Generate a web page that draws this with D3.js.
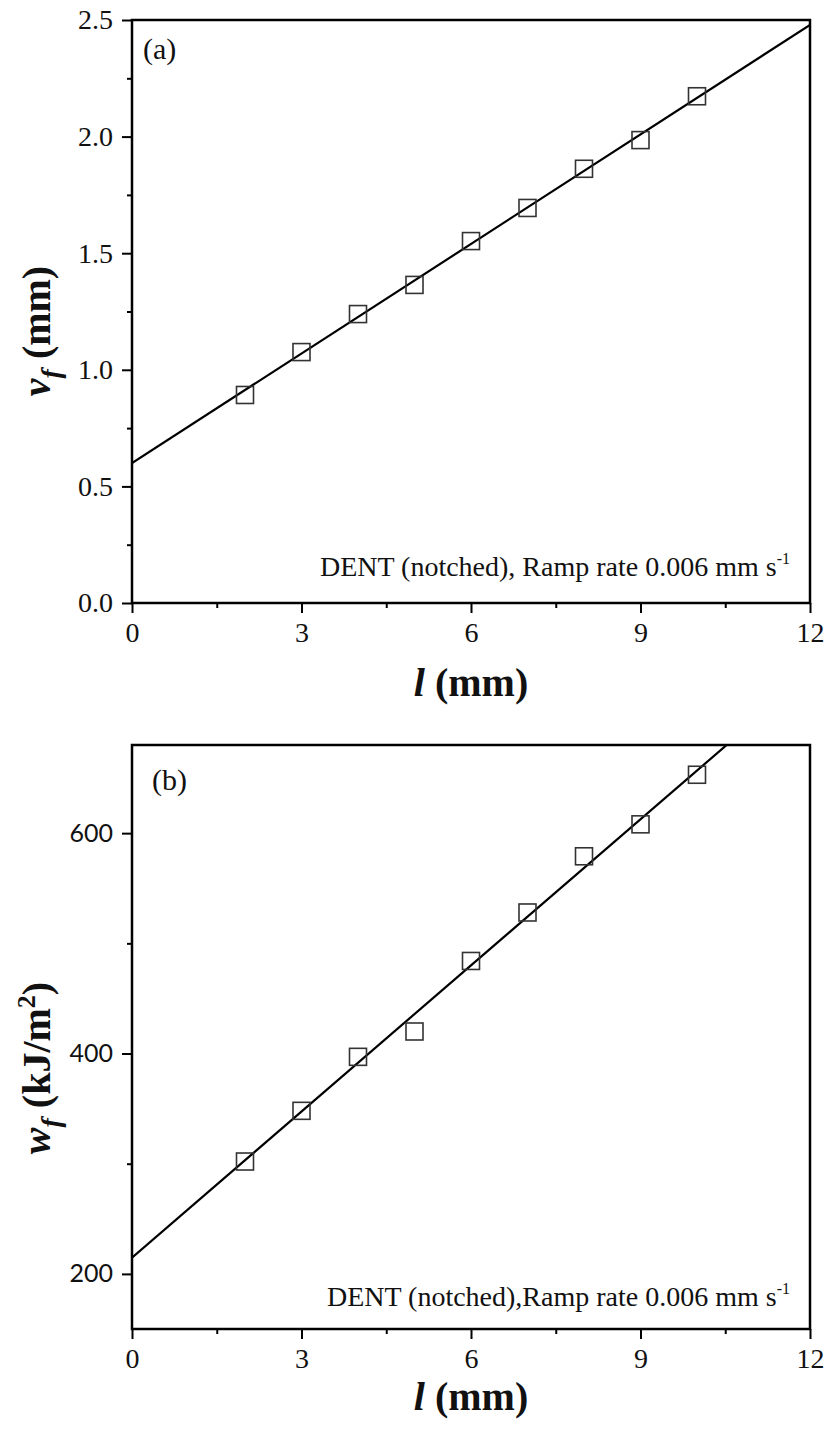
<!DOCTYPE html>
<html>
<head>
<meta charset="utf-8">
<script src="https://cdn.jsdelivr.net/npm/d3@7"></script>
<style>
  html, body { margin: 0; padding: 0; background: #fff; }
  svg { display: block; }
</style>
</head>
<body>
<svg id="chart" width="827" height="1429"></svg>
<script>
// Ligament length l (mm), shared by both panels
const lengths = [2, 3, 4, 5, 6, 7, 8, 9, 10];

// Panel (a): displacement at fracture v_f (mm)
const vfValues = [0.892, 1.076, 1.239, 1.364, 1.552, 1.694, 1.862, 1.985, 2.173];
const vfFit = [0.600, 0.1566];          // intercept, slope
const vfTicks = [0, 0.5, 1.0, 1.5, 2.0, 2.5];
const vfMinor = [0.25, 0.75, 1.25, 1.75, 2.25];

// Panel (b): specific work of fracture w_f (kJ/m²)
const wfValues = [302, 348, 397, 420, 484, 528, 579, 608, 653];
const wfFit = [214.8, 44.2];            // intercept, slope
const wfTicks = [200, 400, 600];
const wfMinor = [300, 500];

const xTicks = [0, 3, 6, 9, 12];
const xMinor = [1.5, 4.5, 7.5, 10.5];

const svg = d3.select("#chart");
const serif = "'Liberation Serif', 'Times New Roman', serif";

const x = d3.scaleLinear().domain([0, 12]).range([132, 810]);

function panel(cfg) {
  const y = d3.scaleLinear().domain(cfg.yDomain).range([cfg.bottom, cfg.top]);
  const g = svg.append("g");

  // clip for the fit line
  const clipId = "clip-" + cfg.id;
  svg.append("clipPath").attr("id", clipId)
    .append("rect")
    .attr("x", x.range()[0]).attr("y", cfg.top)
    .attr("width", x.range()[1] - x.range()[0])
    .attr("height", cfg.bottom - cfg.top);

  // left axis: major + minor ticks
  const yAxis = g.append("g").attr("transform", `translate(${x.range()[0]},0)`)
    .call(d3.axisLeft(y).tickValues(cfg.yTicks).tickFormat(cfg.yFormat)
      .tickSize(10).tickSizeOuter(0).tickPadding(9));
  yAxis.select(".domain").remove();
  yAxis.selectAll("line").attr("stroke", "#000").attr("stroke-width", 2);
  yAxis.selectAll("text").attr("font-family", cfg.yFont).attr("font-size", cfg.yFontSize)
    .attr("fill", "#111");
  const yMinorAxis = g.append("g").attr("transform", `translate(${x.range()[0]},0)`)
    .call(d3.axisLeft(y).tickValues(cfg.yMinor).tickFormat("").tickSize(5).tickSizeOuter(0));
  yMinorAxis.select(".domain").remove();
  yMinorAxis.selectAll("line").attr("stroke", "#000").attr("stroke-width", 2);

  // bottom axis
  const xAxis = g.append("g").attr("transform", `translate(0,${cfg.bottom})`)
    .call(d3.axisBottom(x).tickValues(xTicks).tickFormat(d3.format("d"))
      .tickSize(10).tickSizeOuter(0).tickPadding(9));
  xAxis.select(".domain").remove();
  xAxis.selectAll("line").attr("stroke", "#000").attr("stroke-width", 2);
  xAxis.selectAll("text").attr("font-family", serif).attr("font-size", 28).attr("fill", "#111");
  const xMinorAxis = g.append("g").attr("transform", `translate(0,${cfg.bottom})`)
    .call(d3.axisBottom(x).tickValues(xMinor).tickFormat("").tickSize(5).tickSizeOuter(0));
  xMinorAxis.select(".domain").remove();
  xMinorAxis.selectAll("line").attr("stroke", "#000").attr("stroke-width", 2);

  // fit line
  const fitLine = d3.line().x(d => x(d)).y(d => y(cfg.fit[0] + cfg.fit[1] * d));
  g.append("path")
    .attr("clip-path", `url(#${clipId})`)
    .attr("d", fitLine([0, 12]))
    .attr("fill", "none").attr("stroke", "#000").attr("stroke-width", 2.2);

  // square markers
  const s = 17;
  g.selectAll("rect.pt").data(lengths.map((l, i) => [l, cfg.values[i]]))
    .join("rect").attr("class", "pt")
    .attr("x", d => x(d[0]) - s / 2).attr("y", d => y(d[1]) - s / 2)
    .attr("width", s).attr("height", s)
    .attr("fill", "none").attr("stroke", "#333").attr("stroke-width", 1.6);

  // frame
  g.append("rect")
    .attr("x", x.range()[0]).attr("y", cfg.top)
    .attr("width", x.range()[1] - x.range()[0]).attr("height", cfg.bottom - cfg.top)
    .attr("fill", "none").attr("stroke", "#000").attr("stroke-width", 2.5);

  // panel letter
  g.append("text").attr("x", cfg.letterX).attr("y", cfg.letterY)
    .attr("font-family", serif).attr("font-size", 30).attr("fill", "#111")
    .text(cfg.letter);

  // condition note
  const note = g.append("text").attr("x", 790).attr("y", cfg.noteY)
    .attr("text-anchor", "end").attr("font-family", serif).attr("font-size", 28)
    .attr("fill", "#111");
  note.append("tspan").text(cfg.note);
  note.append("tspan").attr("font-size", 16).attr("dy", -12).text("-1");

  // x title
  const xt = g.append("text").attr("x", 471).attr("y", cfg.xTitleY)
    .attr("text-anchor", "middle").attr("font-family", serif)
    .attr("font-size", 40).attr("font-weight", "bold").attr("fill", "#111");
  xt.append("tspan").attr("font-style", "italic").text("l");
  xt.append("tspan").text(" (mm)");

  // y title
  const yt = g.append("text")
    .attr("transform", `translate(${cfg.yTitleX},${cfg.yTitleY}) rotate(-90)`)
    .attr("text-anchor", "middle").attr("font-family", serif)
    .attr("font-size", 40).attr("font-weight", "bold").attr("fill", "#111");
  yt.append("tspan").attr("font-style", "italic").text(cfg.ySymbol);
  yt.append("tspan").attr("font-style", "italic").attr("font-size", 28).attr("dy", 10).text("f");
  yt.append("tspan").attr("dy", -10).text(cfg.yUnitA);
  if (cfg.yUnitSup) {
    yt.append("tspan").attr("font-size", 26).attr("dy", -15).text(cfg.yUnitSup);
    yt.append("tspan").attr("dy", 15).text(cfg.yUnitB);
  }
}

panel({
  id: "a", top: 20, bottom: 603,
  yDomain: [0, 2.5], yTicks: vfTicks, yMinor: vfMinor,
  yFormat: d3.format(".1f"), yFont: serif, yFontSize: 28,
  values: vfValues, fit: vfFit,
  letter: "(a)", letterX: 143, letterY: 59,
  note: "DENT (notched), Ramp rate 0.006 mm s", noteY: 576,
  xTitleY: 696,
  yTitleX: 50, yTitleY: 331, ySymbol: "v", yUnitA: " (mm)"
});

panel({
  id: "b", top: 745, bottom: 1329,
  yDomain: [150, 680], yTicks: wfTicks, yMinor: wfMinor,
  yFormat: d3.format("d"), yFont: "Lato, 'Open Sans', sans-serif", yFontSize: 25,
  values: wfValues, fit: wfFit,
  letter: "(b)", letterX: 152, letterY: 790,
  note: "DENT (notched),Ramp rate 0.006 mm s", noteY: 1306,
  xTitleY: 1410,
  yTitleX: 50, yTitleY: 1068, ySymbol: "w", yUnitA: " (kJ/m", yUnitSup: "2", yUnitB: ")"
});
</script>
</body>
</html>
